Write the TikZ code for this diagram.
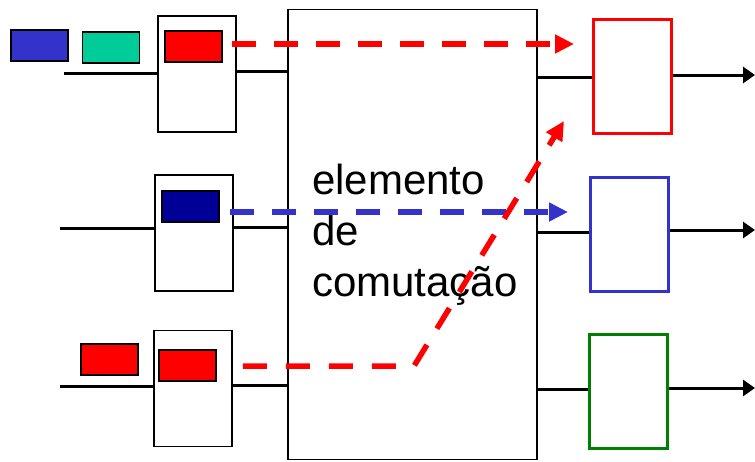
\documentclass[tikz,border=0pt]{standalone}
\usepackage{fontspec}
\setmainfont{Liberation Sans}
\usetikzlibrary{arrows.meta}
\definecolor{pblue}{HTML}{3333CC}
\definecolor{pgreen}{HTML}{00CC99}
\definecolor{pred}{HTML}{FF0000}
\definecolor{pnavy}{HTML}{000099}
\definecolor{ogreen}{HTML}{008000}
\begin{document}
\begin{tikzpicture}[x=1pt,y=-1pt,
  packet/.style={draw=black,line width=1.6pt,minimum width=57pt,minimum height=31pt,inner sep=0pt},
  portbox/.style={draw=black,line width=1.8pt,minimum width=78pt,minimum height=116pt,inner sep=0pt},
  outbox/.style={line width=3pt,minimum width=78pt,minimum height=114pt,inner sep=0pt},
  wire/.style={line width=3pt},
  outwire/.style={line width=3pt,-{Triangle[length=12pt,width=16pt]}},
  flow/.style={line width=5.5pt,dash pattern=on 24pt off 18pt,-{Triangle[length=19pt,width=18pt]}}]
\useasboundingbox (0,0) rectangle (755,461);

% switching fabric
\node[draw=black,line width=1.8pt,minimum width=249pt,minimum height=450pt,inner sep=0pt] (fab) at (412.5,234.5) {};
\node[anchor=north west,inner sep=0pt,align=left,font=\fontsize{42}{51}\selectfont] (lbl) at (312,164) {elemento\\de\\comutação};

% input ports
\node[portbox] (port1) at (197,74) {};
\node[portbox] (port2) at (194,233) {};
\node[portbox] (port3) at (193,388.5) {};

% queued packets
\node[packet,fill=pblue]  (pk1) at (39.5,45.5) {};
\node[packet,fill=pgreen] (pk2) at (111,47.5) {};
\node[packet,fill=pred]   (pk3) at (193.5,46.5) {};
\node[packet,fill=pnavy]  (pk4) at (190.5,206.5) {};
\node[packet,fill=pred]   (pk5) at (187.5,365.5) {};
\node[packet,fill=pred]   (pk6) at (109.5,359.5) {};

% output ports
\node[outbox,draw=pred]   (out1) at (632.5,76.5) {};
\node[outbox,draw=pblue]  (out2) at (629.5,234.5) {};
\node[outbox,draw=ogreen] (out3) at (628.5,391) {};

% free line ends
\coordinate (l1) at (64,73);
\coordinate (l2) at (60,228);
\coordinate (l3) at (60,386);
\coordinate (r1) at (755,75);
\coordinate (r2) at (755,230);
\coordinate (r3) at (755,388);
\coordinate (t1) at (574,44);
\coordinate (t2) at (568,212);
\coordinate (bend) at (414,366);
\coordinate (t3) at (564,121);

% input links
\draw[wire] (l1) -- (l1 -| port1.west);
\draw[wire] (l2) -- (l2 -| port2.west);
\draw[wire] (l3) -- (l3 -| port3.west);
% port to fabric
\draw[wire] (port1.east |- 0,71) -- (fab.west |- 0,71);
\draw[wire] (port2.east |- 0,227) -- (fab.west |- 0,227);
\draw[wire] (port3.east |- 0,385) -- (fab.west |- 0,385);
% fabric to output ports
\draw[wire] (fab.east |- 0,77) -- (out1.west |- 0,77);
\draw[wire] (fab.east |- 0,232) -- (out2.west |- 0,232);
\draw[wire] (fab.east |- 0,389) -- (out3.west |- 0,389);
% output links
\draw[outwire] (out1.east |- r1) -- (r1);
\draw[outwire] (out2.east |- r2) -- (r2);
\draw[outwire] (out3.east |- r3) -- (r3);

% packet transfers through the fabric
\draw[flow,pred] ([xshift=9pt]pk3.east |- t1) -- (t1);
\draw[flow,pblue] ([xshift=10pt]pk4.east |- t2) -- (t2);
\draw[flow,pred,dash pattern=on 24pt off 19pt] ([xshift=26pt]pk5.east |- bend) -- (bend) -- (t3);
\end{tikzpicture}
\end{document}
